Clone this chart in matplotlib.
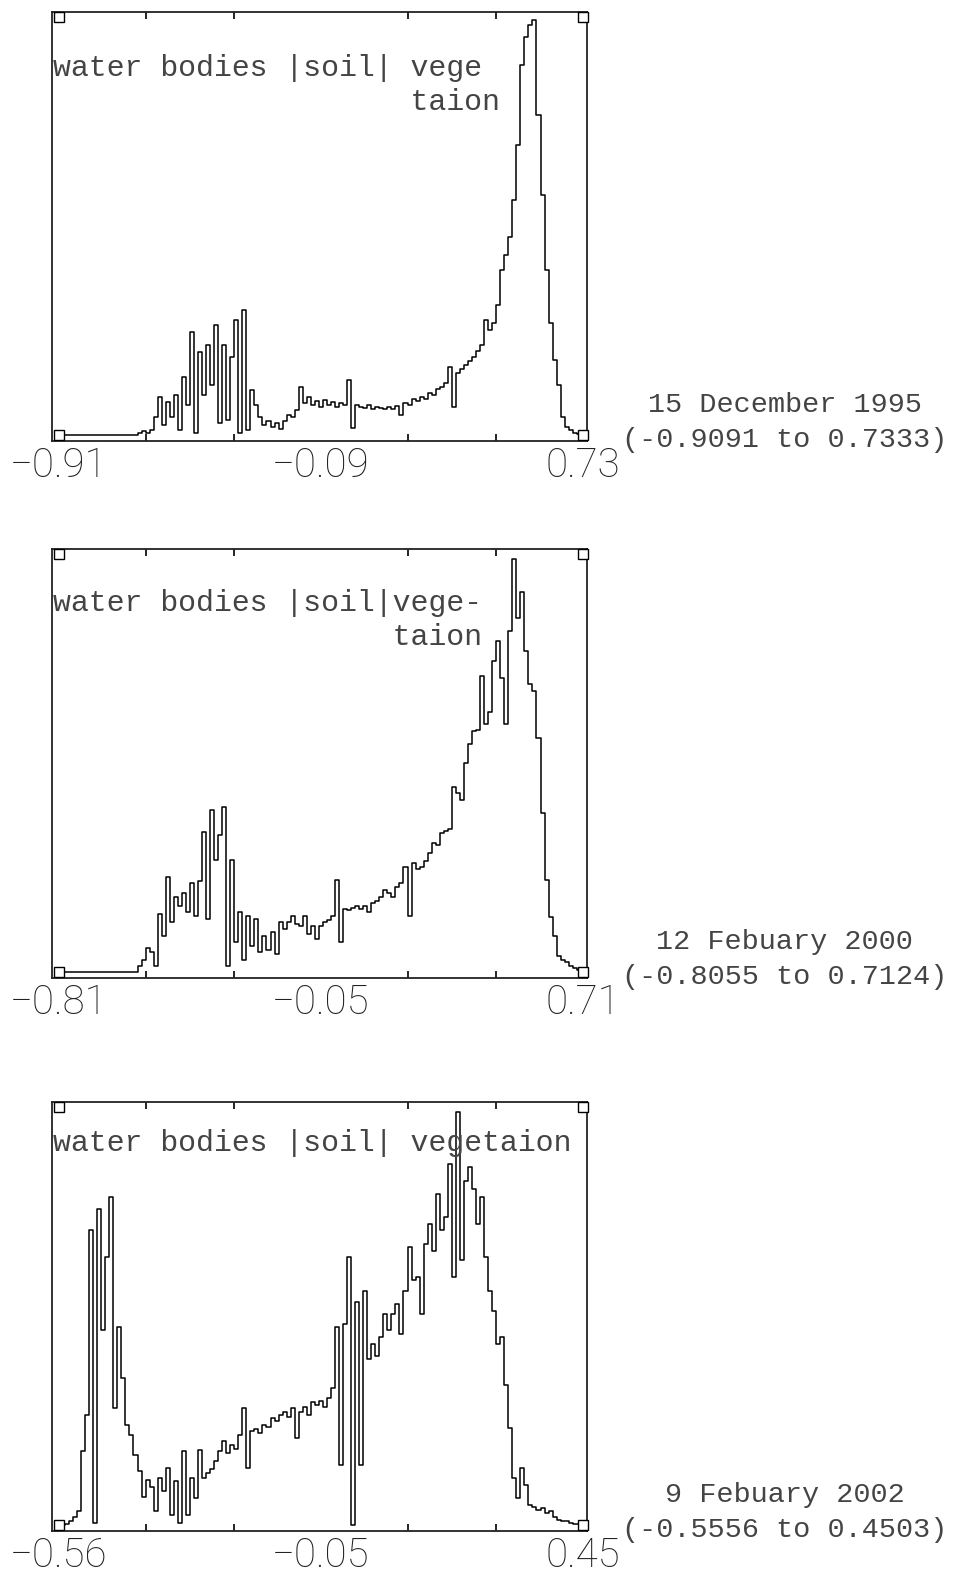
import numpy as np
import matplotlib.pyplot as plt

# NDVI histograms, frequency (arbitrary units)
dates = ["15 December 1995", "12 Febuary 2000", "9 Febuary 2002"]
ndvi_min = [-0.9091, -0.8055, -0.5556]
ndvi_max = [0.7333, 0.7124, 0.4503]
tick_labels = [["\u22120.91", "\u22120.09", "0.73"],
               ["\u22120.81", "\u22120.05", "0.71"],
               ["\u22120.56", "\u22120.05", "0.45"]]
top_value = [418, 421, 417]

freq_1995 = [0, 0, 0, 0, 0, 0, 0, 0, 0, 0, 0, 0, 0, 0, 0, 0, 0, 0, 0, 0,
             2, 4, 2, 5, 18, 38, 10, 33, 18, 40, 5, 58, 30, 103, 2, 83, 40, 90, 50, 110,
             12, 90, 15, 78, 115, 2, 125, 5, 45, 30, 18, 10, 14, 8, 12, 6, 14, 20, 18, 25,
             48, 32, 38, 30, 34, 28, 35, 30, 33, 28, 32, 30, 55, 7, 30, 28, 27, 30, 26, 28,
             27, 26, 28, 26, 29, 20, 32, 30, 36, 34, 38, 36, 42, 40, 46, 48, 52, 68, 28, 62,
             66, 70, 74, 78, 84, 90, 115, 105, 112, 130, 165, 180, 198, 235, 290, 370, 398, 410, 415, 320,
             240, 165, 112, 75, 50, 18, 8, 5, 2, 1, 0]

freq_2000 = [0, 0, 0, 0, 0, 0, 0, 0, 0, 0, 0, 0, 0, 0, 0, 0, 0, 0, 0, 0,
             6, 12, 24, 20, 6, 58, 36, 96, 50, 76, 66, 80, 60, 90, 56, 92, 141, 53, 163, 113,
             138, 166, 6, 113, 30, 60, 12, 56, 26, 53, 20, 36, 22, 40, 18, 50, 43, 50, 56, 48,
             46, 56, 38, 46, 33, 46, 50, 52, 56, 93, 30, 63, 62, 64, 66, 63, 66, 60, 70, 72,
             76, 83, 80, 76, 86, 90, 106, 56, 110, 104, 106, 112, 120, 130, 128, 140, 142, 144, 186, 180,
             173, 210, 230, 243, 244, 298, 250, 262, 313, 333, 296, 250, 343, 416, 356, 383, 323, 290, 283, 236,
             160, 93, 55, 36, 16, 12, 10, 6, 4, 2, 0]

freq_2002 = [0, 0, 1, 4, 8, 14, 74, 110, 294, 2, 315, 194, 267, 327, 117, 197, 147, 100, 90, 70,
             54, 28, 45, 38, 14, 47, 34, 57, 10, 44, 2, 74, 10, 47, 27, 75, 47, 52, 56, 64,
             74, 84, 72, 80, 76, 90, 117, 57, 94, 96, 92, 100, 98, 107, 104, 110, 113, 108, 117, 87,
             113, 118, 110, 123, 120, 124, 118, 127, 137, 197, 60, 200, 267, 0, 222, 60, 233, 165, 180, 168,
             187, 210, 194, 210, 220, 190, 233, 277, 244, 247, 210, 280, 300, 273, 330, 294, 307, 360, 247, 412,
             264, 343, 357, 335, 300, 327, 267, 233, 213, 180, 187, 140, 97, 47, 27, 57, 40, 20, 18, 15,
             17, 12, 14, 8, 5, 4, 4, 2, 1, 1, 0]

freqs = [freq_1995, freq_2000, freq_2002]

label_lines = [["water bodies |soil| vege", " " * 20 + "taion"],
               ["water bodies |soil|vege-", " " * 19 + "taion"],
               ["water bodies |soil| vegetaion", ""]]
label_y = [[0.870, 0.791], [0.873, 0.794], [0.905, 0.0]]

fig = plt.figure(figsize=(9.62, 15.78), dpi=100)
bottoms = [0.7205, 0.3802, 0.0298]

for k in range(3):
    ax = fig.add_axes([0.054, bottoms[k], 0.556, 0.272])
    lo, hi = ndvi_min[k], ndvi_max[k]
    span = hi - lo
    M = top_value[k]
    y = np.array(freqs[k], dtype=float)
    x = np.linspace(lo, hi, len(y))
    ax.plot(x, y, drawstyle="steps-mid", color="black", lw=1.1)

    # corner squares
    for cx in (lo, hi):
        for cy in (0, M):
            ax.plot(cx, cy, marker="s", ms=6.5, mfc="white", mec="black",
                    mew=1.0, clip_on=False, zorder=5)

    ax.set_xlim(lo - 7 / 524 * span, hi + 4 / 524 * span)
    ax.set_ylim(-6 * M / 418, M + 5 * M / 418)
    ax.set_yticks([])
    ax.set_xticks([lo, (lo + hi) / 2, hi])
    ax.set_xticklabels(tick_labels[k], fontsize=29, family="Roboto",
                       fontweight="light", color="#222222")
    ax.set_xticks([lo + span * j / 6 for j in range(1, 6)], minor=True)
    ax.tick_params(axis="x", which="major", length=0, pad=4)
    ax.tick_params(axis="x", which="minor", direction="in", length=5,
                   width=1.2, top=True, bottom=True)
    for s in ax.spines.values():
        s.set_linewidth(1.3)
        s.set_color("#222222")

    for line, yy in zip(label_lines[k], label_y[k]):
        if line:
            ax.text(0.002, yy, line, transform=ax.transAxes, ha="left",
                    va="center", family="Liberation Mono", fontsize=21.5,
                    color="#444444")

    ax.text(1.37, 0.083, dates[k], transform=ax.transAxes, ha="center",
            va="center", family="Liberation Mono", fontsize=20.5, color="#444444")
    ax.text(1.37, 0.003, "(%.4f to %.4f)" % (lo, hi), transform=ax.transAxes,
            ha="center", va="center", family="Liberation Mono", fontsize=20.5,
            color="#444444")

fig.savefig("out.png", dpi=100)
